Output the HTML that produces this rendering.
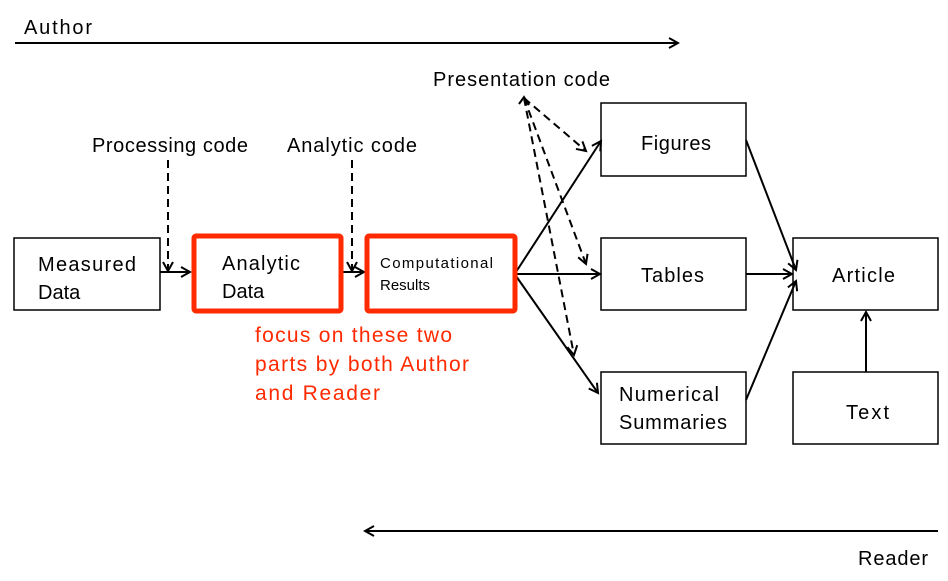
<!DOCTYPE html>
<html><head><style>
body{margin:0;background:#fff}
svg text{font-family:"Liberation Sans",sans-serif}
</style></head><body>
<svg width="948" height="576" viewBox="0 0 948 576" xmlns="http://www.w3.org/2000/svg">
<defs>
<marker id="a" markerWidth="12" markerHeight="12" refX="10" refY="6" orient="auto" markerUnits="userSpaceOnUse">
<path d="M1,1 L10,6 L1,11" fill="none" stroke="#000" stroke-width="2"/></marker>
</defs>
<g font-size="20" fill="#000">
<text x="24" y="34" textLength="68">Author</text>
<text x="858" y="565" textLength="70">Reader</text>
<text x="433" y="86" textLength="177">Presentation code</text>
<text x="92" y="152" textLength="156">Processing code</text>
<text x="287" y="152" textLength="130">Analytic code</text>
</g>
<g stroke="#000" stroke-width="2" fill="none">
<line x1="15" y1="43" x2="678" y2="43" marker-end="url(#a)"/>
<line x1="938" y1="531" x2="365" y2="531" marker-end="url(#a)"/>
<rect x="14" y="238" width="146" height="72" stroke-width="1.5"/>
<rect x="601" y="103" width="145" height="73" stroke-width="1.5"/>
<rect x="601" y="238" width="145" height="72" stroke-width="1.5"/>
<rect x="601" y="372" width="145" height="72" stroke-width="1.5"/>
<rect x="793" y="238" width="145" height="72" stroke-width="1.5"/>
<rect x="793" y="372" width="145" height="72" stroke-width="1.5"/>
<line x1="160" y1="272" x2="190" y2="272" marker-end="url(#a)"/>
<line x1="342" y1="272" x2="364" y2="272" marker-end="url(#a)"/>
<line x1="516" y1="272" x2="601" y2="141" marker-end="url(#a)"/>
<line x1="516" y1="274" x2="600" y2="274" marker-end="url(#a)"/>
<line x1="516" y1="276" x2="598" y2="393" marker-end="url(#a)"/>
<line x1="746" y1="140" x2="796" y2="270" marker-end="url(#a)"/>
<line x1="746" y1="274" x2="792" y2="274" marker-end="url(#a)"/>
<line x1="746" y1="400" x2="796" y2="281" marker-end="url(#a)"/>
<line x1="866" y1="372" x2="866" y2="312" marker-end="url(#a)"/>
<g stroke-dasharray="8,5">
<line x1="168" y1="160" x2="168" y2="271" marker-end="url(#a)"/>
<line x1="352" y1="160" x2="352" y2="271" marker-end="url(#a)"/>
<line x1="524" y1="98" x2="586" y2="151" marker-end="url(#a)"/>
<line x1="524" y1="98" x2="586" y2="264" marker-end="url(#a)"/>
<line x1="524" y1="98" x2="574" y2="355" marker-end="url(#a)"/>
</g>
<path d="M519,104 L524,97 L529,105" stroke-width="2"/>
</g>
<g stroke="#ff2a00" stroke-width="5" fill="none">
<rect x="194" y="236" width="147" height="75" rx="2"/>
<rect x="367" y="236" width="148" height="75" rx="2"/>
</g>
<g font-size="20" fill="#000">
<text x="38" y="271" textLength="98">Measured</text><text x="38" y="299">Data</text>
<text x="222" y="270" textLength="78">Analytic</text><text x="222" y="298">Data</text>
<text x="380" y="268" font-size="15" textLength="113">Computational</text><text x="380" y="290" font-size="15">Results</text>
<text x="641" y="150" textLength="70">Figures</text>
<text x="641" y="282" textLength="63">Tables</text>
<text x="619" y="401" textLength="100">Numerical</text><text x="619" y="429" textLength="108">Summaries</text>
<text x="832" y="282" textLength="63">Article</text>
<text x="846" y="419" textLength="43">Text</text>
</g>
<g font-size="21" fill="#ff2a00">
<text x="255" y="342" textLength="197">focus on these two</text>
<text x="255" y="371" textLength="214">parts by both Author</text>
<text x="255" y="400" textLength="125">and Reader</text>
</g>
</svg>
</body></html>
